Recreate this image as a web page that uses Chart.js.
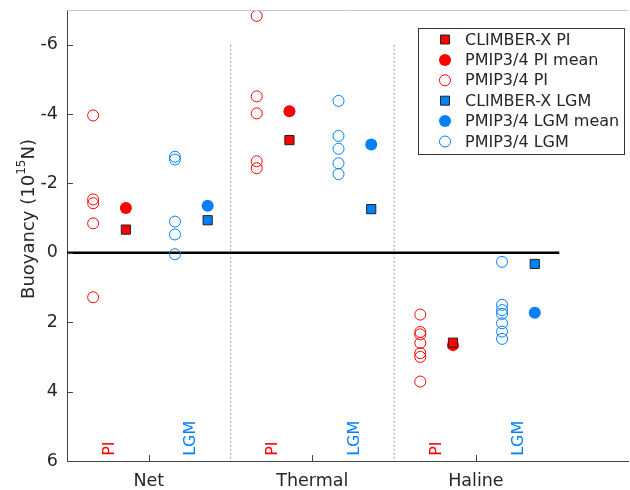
<!DOCTYPE html>
<html>
<head>
<meta charset="utf-8">
<script src="https://cdn.jsdelivr.net/npm/chart.js@4"></script>
<style>
  html, body { margin: 0; padding: 0; background: #fff; }
  #wrap { width: 630px; height: 490px; }
</style>
</head>
<body>
<div id="wrap"><canvas id="buoyChart" width="630" height="490"></canvas></div>
<script>
// values (10^15 N, positive = down on the reversed axis)
const categories = ['Net', 'Thermal', 'Haline'];
const piModels = [
  [-3.96, -1.54, -1.43, -0.85, 1.28],
  [-6.83, -4.51, -4.02, -2.64, -2.44],
  [1.78, 2.28, 2.35, 2.60, 2.89, 3.00, 3.71]
];
const piMean = [-1.29, -4.08, 2.66];
const climberPI = [-0.67, -3.25, 2.59];
const lgmModels = [
  [-2.77, -2.69, -0.90, -0.53, 0.04],
  [-4.38, -3.37, -3.00, -2.58, -2.27],
  [0.26, 1.50, 1.65, 1.76, 2.03, 2.27, 2.48]
];
const lgmMean = [-1.36, -3.12, 1.73];
const climberLGM = [-0.94, -1.26, 0.32];
const yTicks = [-6, -4, -2, 0, 2, 4, 6];
const periodLabels = ['PI', 'LGM'];

const RED = '#ff0000';
const BLUE = '#0080ff';
const FONT = '"DejaVu Sans", sans-serif';

// x layout inside each group
const offModel = [0.16, 0.66];
const offMean = [0.36, 0.86];
const offLabel = [0.26, 0.76];

const pts = (vals, off) => vals.map((v, i) => ({ x: i + off, y: v }));
const modelPts = (groups, off) => {
  const out = [];
  groups.forEach((g, i) => g.forEach(v => out.push({ x: i + off, y: v })));
  return out;
};

const datasets = [
  { label: 'CLIMBER-X PI', data: pts(climberPI, offMean[0]), pointStyle: 'rect', pointRadius: 6.5,
    backgroundColor: RED, borderColor: '#222', borderWidth: 1 },
  { label: 'PMIP3/4 PI mean', data: pts(piMean, offMean[0]), pointStyle: 'circle', pointRadius: 6,
    backgroundColor: RED, borderColor: RED, borderWidth: 0 },
  { label: 'PMIP3/4 PI', data: modelPts(piModels, offModel[0]), pointStyle: 'circle', pointRadius: 5.5,
    backgroundColor: 'rgba(0,0,0,0)', borderColor: RED, borderWidth: 1 },
  { label: 'CLIMBER-X LGM', data: pts(climberLGM, offMean[1]), pointStyle: 'rect', pointRadius: 6.5,
    backgroundColor: BLUE, borderColor: '#222', borderWidth: 1 },
  { label: 'PMIP3/4 LGM mean', data: pts(lgmMean, offMean[1]), pointStyle: 'circle', pointRadius: 6,
    backgroundColor: BLUE, borderColor: BLUE, borderWidth: 0 },
  { label: 'PMIP3/4 LGM', data: modelPts(lgmModels, offModel[1]), pointStyle: 'circle', pointRadius: 5.5,
    backgroundColor: 'rgba(0,0,0,0)', borderColor: BLUE, borderWidth: 1 },
  // zero line and group separators
  { label: 'zero', type: 'line', data: [{ x: 0, y: 0 }, { x: 3.01, y: 0 }], borderColor: '#000',
    borderWidth: 2.5, pointRadius: 0, showLine: true },
  { label: 'sep1', type: 'line', data: [{ x: 1, y: -6 }, { x: 1, y: 6 }], borderColor: '#aaa',
    borderWidth: 1.2, borderDash: [2, 2], pointRadius: 0, showLine: true },
  { label: 'sep2', type: 'line', data: [{ x: 2, y: -6 }, { x: 2, y: 6 }], borderColor: '#aaa',
    borderWidth: 1.2, borderDash: [2, 2], pointRadius: 0, showLine: true }
];

const extras = {
  id: 'extras',
  afterDraw(chart) {
    const ctx = chart.ctx;
    const xs = chart.scales.x, ys = chart.scales.y, a = chart.chartArea;
    ctx.save();
    // top box line
    ctx.strokeStyle = '#c8c8c8';
    ctx.lineWidth = 1;
    ctx.beginPath(); ctx.moveTo(a.left, a.top + 0.5); ctx.lineTo(a.right, a.top + 0.5); ctx.stroke();
    // inward tick marks
    ctx.strokeStyle = '#444';
    yTicks.forEach(v => {
      const y = Math.round(ys.getPixelForValue(v)) + 0.5;
      ctx.beginPath(); ctx.moveTo(a.left, y); ctx.lineTo(a.left + 6, y); ctx.stroke();
    });
    categories.forEach((c, i) => {
      const x = Math.round(xs.getPixelForValue(i + 0.5)) + 0.5;
      ctx.beginPath(); ctx.moveTo(x, a.bottom); ctx.lineTo(x, a.bottom - 6); ctx.stroke();
    });
    // PI / LGM labels in each group
    ctx.font = '16px ' + FONT;
    ctx.textAlign = 'left';
    ctx.textBaseline = 'middle';
    categories.forEach((c, i) => {
      periodLabels.forEach((p, k) => {
        ctx.save();
        ctx.translate(xs.getPixelForValue(i + offLabel[k]), ys.getPixelForValue(5.85));
        ctx.rotate(-Math.PI / 2);
        ctx.fillStyle = k === 0 ? RED : BLUE;
        ctx.fillText(p, 0, 0);
        ctx.restore();
      });
    });
    // y axis title with superscript
    ctx.save();
    ctx.translate(29, 219);
    ctx.rotate(-Math.PI / 2);
    ctx.fillStyle = '#262626';
    const f1 = '18px ' + FONT, f2 = '12px ' + FONT;
    const parts = [['Buoyancy (10', f1, 0], ['15', f2, -7], ['N)', f1, 0]];
    let total = 0;
    parts.forEach(p => { ctx.font = p[1]; total += ctx.measureText(p[0]).width; });
    let x = -total / 2;
    ctx.textBaseline = 'middle';
    parts.forEach(p => {
      ctx.font = p[1];
      ctx.fillText(p[0], x, p[2]);
      x += ctx.measureText(p[0]).width;
    });
    ctx.restore();
    // legend box
    const lx = 418, ly = 28, lw = 206, lh = 126;
    ctx.fillStyle = '#fff';
    ctx.fillRect(lx, ly, lw, lh);
    ctx.strokeStyle = '#333';
    ctx.strokeRect(lx + 0.5, ly + 0.5, lw, lh);
    ctx.font = '16px ' + FONT;
    ctx.textAlign = 'left';
    ctx.textBaseline = 'middle';
    datasets.slice(0, 6).forEach((d, i) => {
      const cy = 39.5 + i * 20.4, cx = 445;
      ctx.beginPath();
      if (d.pointStyle === 'rect') {
        ctx.rect(cx - 4.5, cy - 4.5, 9, 9);
        ctx.fillStyle = d.backgroundColor; ctx.fill();
        ctx.strokeStyle = d.borderColor; ctx.lineWidth = 1; ctx.stroke();
      } else {
        ctx.arc(cx, cy, d.pointRadius, 0, Math.PI * 2);
        if (d.borderWidth === 0) { ctx.fillStyle = d.backgroundColor; ctx.fill(); }
        else { ctx.strokeStyle = d.borderColor; ctx.lineWidth = 1; ctx.stroke(); }
      }
      ctx.fillStyle = '#262626';
      ctx.fillText(d.label, 465, cy + 1);
    });
    ctx.restore();
  }
};

new Chart(document.getElementById('buoyChart'), {
  type: 'scatter',
  data: { datasets },
  options: {
    responsive: false,
    animation: false,
    layout: { autoPadding: false, padding: { top: 10, right: 2, left: 0, bottom: 0 } },
    plugins: { legend: { display: false }, tooltip: { enabled: false } },
    scales: {
      x: {
        type: 'linear', min: 0, max: 3.43,
        grid: { display: false },
        border: { display: true, color: '#444', width: 1 },
        afterFit: s => { s.height = 29; s.paddingLeft = 0; s.paddingRight = 0; },
        afterBuildTicks: s => { s.ticks = categories.map((c, i) => ({ value: i + 0.5 })); },
        ticks: {
          padding: 2, color: '#262626', font: { family: FONT, size: 17.5 },
          callback: v => categories[Math.round(v - 0.5)]
        }
      },
      y: {
        type: 'linear', min: -7, max: 6, reverse: true,
        grid: { display: false },
        border: { display: true, color: '#444', width: 1 },
        afterFit: s => { s.width = 67; s.paddingTop = 0; s.paddingBottom = 0; },
        afterBuildTicks: s => { s.ticks = yTicks.map(v => ({ value: v })); },
        ticks: { padding: 1, color: '#262626', font: { family: FONT, size: 17.5 } }
      }
    }
  },
  plugins: [extras]
});
</script>
</body>
</html>
